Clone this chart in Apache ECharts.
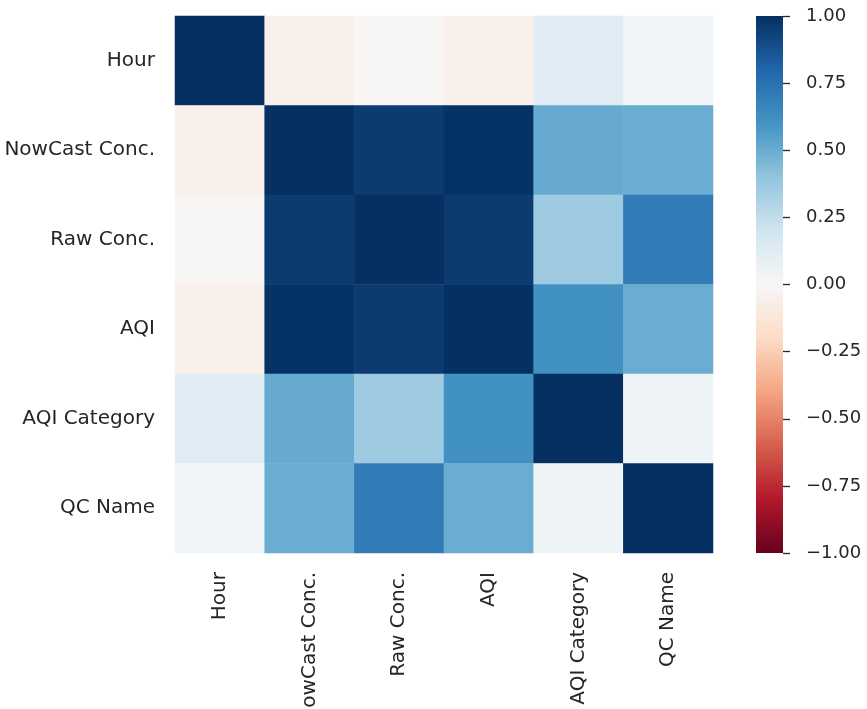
<!DOCTYPE html>
<html>
<head>
<meta charset="utf-8">
<script src="https://cdn.jsdelivr.net/npm/echarts@6/dist/echarts.min.js"></script>
<style>
  html, body { margin: 0; padding: 0; background: #fff; }
  #chart { width: 867px; height: 709px; }
</style>
</head>
<body>
<div id="chart"></div>
<script>
// Variables shown in the correlation matrix
var variables = ['Hour', 'NowCast Conc.', 'Raw Conc.', 'AQI', 'AQI Category', 'QC Name'];

// Correlation matrix rows (same order as variables)
var rowHour        = [1.00, -0.05, -0.01, -0.05, 0.12, 0.03];
var rowNowCast     = [-0.05, 1.00, 0.96, 0.99, 0.51, 0.50];
var rowRaw         = [-0.01, 0.96, 1.00, 0.96, 0.36, 0.70];
var rowAQI         = [-0.05, 0.99, 0.96, 1.00, 0.61, 0.50];
var rowAQICategory = [0.12, 0.51, 0.36, 0.61, 1.00, 0.05];
var rowQCName      = [0.03, 0.50, 0.70, 0.50, 0.05, 1.00];
var matrix = [rowHour, rowNowCast, rowRaw, rowAQI, rowAQICategory, rowQCName];

// Colour bar range and tick step
var barMin = -1, barMax = 1, barStep = 0.25;

// RdBu diverging palette, -1 (red) to 1 (blue)
var rdbu = ['#67001f', '#b2182b', '#d6604d', '#f4a582', '#fddbc7', '#f7f7f7',
            '#d1e5f0', '#92c5de', '#4393c3', '#2166ac', '#053061'];

var cells = [];
matrix.forEach(function (row, r) {
  row.forEach(function (v, c) { cells.push([c, r, v]); });
});

var FONT = 'DejaVu Sans';
var TEXT = '#262626';
var plot = { left: 175, top: 16, width: 538, height: 537 };
var bar = { left: 756, top: 16, width: 27, height: 537 };

var gradStops = rdbu.map(function (col, i) {
  return { offset: 1 - i / (rdbu.length - 1), color: col };
});

var chart = echarts.init(document.getElementById('chart'), null, { renderer: 'canvas' });
chart.setOption({
  backgroundColor: '#ffffff',
  animation: false,
  grid: [
    { left: plot.left, top: plot.top, width: plot.width, height: plot.height,
      containLabel: false, outerBoundsMode: 'none' },
    { left: bar.left, top: bar.top, width: bar.width, height: bar.height,
      containLabel: false, outerBoundsMode: 'none',
      show: true, borderWidth: 0,
      backgroundColor: new echarts.graphic.LinearGradient(0, 0, 0, 1, gradStops) }
  ],
  xAxis: [
    { type: 'category', gridIndex: 0, data: variables, position: 'bottom',
      axisLine: { show: false }, axisTick: { show: false }, splitLine: { show: false },
      axisLabel: { rotate: 90, margin: 19, fontFamily: FONT, fontSize: 20, color: TEXT,
        interval: 0, padding: [4, 0, 0, 0] } },
    { type: 'category', gridIndex: 1, data: [''], show: false }
  ],
  yAxis: [
    { type: 'category', gridIndex: 0, data: variables, inverse: true,
      axisLine: { show: false }, axisTick: { show: false }, splitLine: { show: false },
      axisLabel: { margin: 20, fontFamily: FONT, fontSize: 20, color: TEXT,
        interval: 0, padding: [4, 0, 0, 0] } },
    { type: 'value', gridIndex: 1, position: 'right', min: barMin, max: barMax, interval: barStep,
      axisLine: { show: false, onZero: false }, splitLine: { show: false },
      axisTick: { show: true, inside: false, length: 7, lineStyle: { color: TEXT, width: 1.3 } },
      axisLabel: { margin: 23, fontFamily: FONT, fontSize: 18, color: TEXT,
        padding: [3, 0, 0, 0],
        formatter: function (v) {
          var s = Math.abs(v).toFixed(2);
          return v < 0 ? '\u2212' + s : s;
        } } }
  ],
  visualMap: {
    show: false, type: 'continuous', min: barMin, max: barMax, seriesIndex: 0, dimension: 2,
    inRange: { color: rdbu }
  },
  series: [
    { type: 'heatmap', xAxisIndex: 0, yAxisIndex: 0, data: cells,
      itemStyle: { borderWidth: 0 }, emphasis: { disabled: true } }
  ]
});
</script>
</body>
</html>
